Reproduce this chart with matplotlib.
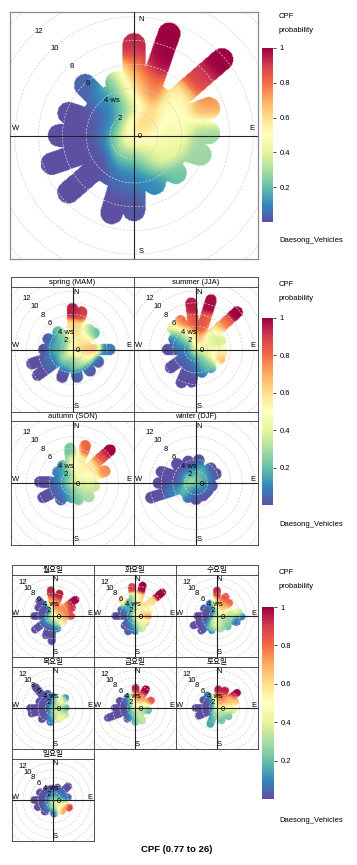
import numpy as np
import matplotlib.pyplot as plt
from matplotlib import cm
from matplotlib.colors import Normalize

W, H = 357, 865
plt.rcParams['font.family'] = ['Liberation Sans', 'Noto Sans CJK KR', 'DejaVu Sans']

# spokes: (wind direction deg, reach ws, CPF half-way out, CPF at tip)
# spots:  (wind direction deg, ws, CPF)
all_centre, all_core = 0.55, 4.8
all_spokes = [(0, 7.7, 0.6, 0.93), (19, 9.1, 0.8, 1.0), (49, 9.8, 0.5, 1.0), (70, 6.7, 0.5, 0.72),
              (88, 6.3, 0.45, 0.28), (106, 5.8, 0.42, 0.28), (132, 4.7, 0.38, 0.22), (157, 4.4, 0.25, 0.1),
              (180, 6.3, 0.08, 0.02), (196, 6.8, 0.04, 0.0), (229, 7.3, 0.0, 0.0), (251, 7.3, 0.0, 0.0),
              (270, 6.3, 0.0, 0.0), (289, 5.8, 0.0, 0.0), (316, 5.9, 0.06, 0.04), (342, 4.7, 0.3, 0.33)]
all_spots = [(40, 1.3, 0.68), (270, 1.8, 0.3), (200, 2.0, 0.3), (120, 2.5, 0.5),
             (49, 7.0, 0.9), (19, 6.5, 1.0), (0, 5.5, 0.75), (330, 4.0, 0.1), (90, 1.5, 0.52)]

season_names = ['spring (MAM)', 'summer (JJA)', 'autumn (SON)', 'winter (DJF)']
season_centre = [0.55, 0.45, 0.5, 0.4]
season_core = [3.4, 3.4, 3.0, 3.4]
spring_spokes = [(0, 7.0, 0.6, 0.95), (14, 6.6, 0.65, 0.9), (40, 4.5, 0.55, 0.35), (53, 4.7, 0.4, 0.15),
                 (90, 6.5, 0.7, 0.08), (115, 5.0, 0.5, 0.02), (140, 4.8, 0.3, 0.02), (170, 4.8, 0.3, 0.03),
                 (201, 5.1, 0.1, 0.0), (234, 7.5, 0.05, 0.0), (251, 7.5, 0.05, 0.0), (270, 5.0, 0.1, 0.0),
                 (293, 4.6, 0.15, 0.02), (320, 3.9, 0.3, 0.2)]
spring_spots = [(90, 1.9, 0.75), (60, 2.5, 0.72), (270, 3.0, 0.25), (230, 2.0, 0.45)]
summer_spokes = [(354, 8.0, 0.85, 0.95), (17, 8.9, 0.85, 0.98), (48, 9.6, 0.55, 1.0), (70, 4.5, 0.4, 0.35),
                 (95, 4.5, 0.5, 0.5), (111, 4.4, 0.5, 0.72), (140, 4.0, 0.2, 0.15), (165, 4.0, 0.15, 0.05),
                 (188, 5.6, 0.02, 0.0), (204, 6.2, 0.02, 0.0), (235, 5.4, 0.02, 0.0), (270, 4.9, 0.05, 0.0),
                 (295, 4.2, 0.1, 0.08), (312, 5.4, 0.3, 0.4), (331, 5.6, 0.5, 0.8)]
summer_spots = [(20, 1.7, 0.72), (265, 2.0, 0.12), (180, 2.0, 0.15), (150, 3.0, 0.3), (48, 6.5, 0.8), (60, 3.5, 0.35)]
autumn_spokes = [(356, 6.0, 0.45, 0.22), (19, 6.8, 0.55, 0.82), (49, 8.7, 0.55, 1.0), (70, 6.0, 0.5, 0.75),
                 (97, 3.9, 0.4, 0.35), (129, 3.7, 0.35, 0.3), (160, 3.0, 0.3, 0.25), (183, 2.5, 0.2, 0.12),
                 (215, 3.5, 0.1, 0.03), (244, 5.7, 0.02, 0.0), (272, 5.7, 0.02, 0.0), (307, 3.2, 0.15, 0.08),
                 (330, 3.4, 0.2, 0.12)]
autumn_spots = [(49, 6.5, 0.85), (270, 1.6, 0.2), (30, 2.5, 0.55)]
winter_spokes = [(7, 4.0, 0.08, 0.0), (45, 3.6, 0.05, 0.0), (65, 3.8, 0.05, 0.0), (100, 2.8, 0.08, 0.0),
                 (150, 2.5, 0.08, 0.0), (180, 2.8, 0.05, 0.0), (210, 2.8, 0.05, 0.0), (252, 8.2, 0.02, 0.0),
                 (270, 6.5, 0.0, 0.0), (288, 6.3, 0.0, 0.0), (315, 4.7, 0.0, 0.0), (340, 4.0, 0.02, 0.0)]
winter_spots = [(300, 1.5, 0.5), (20, 2.0, 0.38), (230, 2.3, 0.35), (250, 3.5, 0.2), (60, 1.5, 0.35)]

day_names = ['월요일', '화요일', '수요일', '목요일', '금요일', '토요일', '일요일']
day_centre = [0.5, 0.5, 0.45, 0.3, 0.5, 0.55, 0.45]
day_core = [3.0, 3.0, 3.0, 2.8, 3.0, 3.0, 3.0]
mon_spokes = [(355, 6.9, 0.75, 0.93), (16, 6.2, 0.8, 0.95), (54, 7.4, 0.75, 1.0), (67, 5.5, 0.75, 0.92),
              (90, 4.8, 0.7, 0.85), (120, 3.0, 0.5, 0.6), (160, 3.5, 0.3, 0.1), (183, 6.7, 0.02, 0.0),
              (200, 5.5, 0.02, 0.0), (233, 6.0, 0.0, 0.0), (270, 5.0, 0.0, 0.0), (300, 4.5, 0.0, 0.0),
              (318, 5.4, 0.0, 0.0)]
mon_spots = [(180, 1.5, 0.25), (240, 1.8, 0.3), (45, 2.5, 0.72)]
tue_spokes = [(354, 7.8, 0.3, 0.9), (14, 8.4, 0.7, 1.0), (49, 9.6, 0.6, 1.0), (70, 4.0, 0.45, 0.4),
              (90, 3.4, 0.85, 0.9), (120, 3.5, 0.4, 0.35), (150, 3.8, 0.45, 0.4), (180, 4.0, 0.2, 0.1),
              (204, 4.5, 0.1, 0.02), (227, 3.8, 0.05, 0.0), (270, 5.2, 0.02, 0.0), (295, 4.0, 0.05, 0.02),
              (320, 5.2, 0.3, 0.7), (340, 4.0, 0.2, 0.05)]
tue_spots = [(329, 3.4, 0.05), (357, 4.5, 0.3), (15, 4.0, 0.6)]
wed_spokes = [(0, 6.8, 0.7, 0.92), (24, 5.6, 0.7, 0.85), (43, 4.8, 0.65, 0.8), (80, 5.8, 0.4, 0.45),
              (91, 6.6, 0.3, 0.08), (107, 5.5, 0.25, 0.05), (135, 4.0, 0.3, 0.2), (165, 3.5, 0.4, 0.3),
              (200, 4.0, 0.45, 0.1), (227, 5.7, 0.1, 0.0), (248, 6.7, 0.02, 0.0), (270, 5.2, 0.0, 0.0),
              (300, 4.0, 0.0, 0.0), (330, 3.8, 0.1, 0.08)]
wed_spots = [(200, 2.5, 0.5), (90, 1.3, 0.3)]
thu_spokes = [(0, 3.0, 0.15, 0.08), (320, 7.3, 0.0, 0.0), (340, 4.0, 0.05, 0.02), (51, 4.2, 0.25, 0.05),
              (90, 3.4, 0.25, 0.08), (120, 3.8, 0.4, 0.4), (150, 3.4, 0.45, 0.45), (190, 3.8, 0.15, 0.08),
              (225, 4.2, 0.0, 0.0), (256, 5.9, 0.0, 0.0), (270, 6.1, 0.0, 0.0), (295, 4.0, 0.0, 0.0)]
thu_spots = [(42, 2.6, 0.75), (60, 3.0, 0.5)]
fri_spokes = [(2, 5.4, 0.8, 0.95), (30, 5.8, 0.75, 1.0), (65, 4.7, 0.6, 0.85), (100, 3.5, 0.3, 0.15),
              (150, 3.9, 0.4, 0.35), (178, 3.7, 0.3, 0.2), (215, 3.5, 0.1, 0.03), (250, 7.7, 0.0, 0.0),
              (270, 5.4, 0.0, 0.0), (295, 4.5, 0.0, 0.0), (325, 3.5, 0.1, 0.08)]
fri_spots = [(350, 1.5, 0.72), (100, 1.5, 0.3)]
sat_spokes = [(4, 5.0, 0.8, 0.95), (25, 5.2, 0.8, 0.95), (53, 6.7, 0.7, 1.0), (71, 5.1, 0.6, 0.65),
              (95, 4.5, 0.45, 0.4), (125, 3.8, 0.3, 0.2), (160, 3.5, 0.25, 0.2), (203, 4.6, 0.15, 0.15),
              (247, 5.3, 0.0, 0.0), (270, 5.7, 0.0, 0.0), (300, 4.2, 0.0, 0.0), (323, 4.2, 0.1, 0.08)]
sat_spots = [(30, 2.0, 0.75), (180, 1.8, 0.4)]
sun_spokes = [(355, 3.1, 0.15, 0.0), (20, 3.5, 0.15, 0.0), (48, 5.4, 0.05, 0.0), (80, 4.0, 0.1, 0.03),
              (115, 4.7, 0.5, 0.9), (142, 3.7, 0.5, 0.72), (175, 3.6, 0.15, 0.0), (215, 3.8, 0.05, 0.0),
              (245, 4.5, 0.0, 0.0), (270, 5.0, 0.0, 0.0), (300, 4.0, 0.0, 0.0), (330, 3.2, 0.03, 0.0)]
sun_spots = [(200, 1.3, 0.5)]

ring_ws = [2, 4, 6, 8, 10, 12]
cbar_ticks = [0.2, 0.4, 0.6, 0.8, 1.0]

cmap = plt.get_cmap('Spectral_r')
norm = Normalize(0, 1)
fig = plt.figure(figsize=(W / 100, H / 100), dpi=100)
FS = 5.5


def px_axes(x0, y0, x1, y1):
    return fig.add_axes([x0 / W, 1 - y1 / H, (x1 - x0) / W, (y1 - y0) / H])


def cpf_field(X, Y, centre, spokes, spots, sigma=0.9):
    pts = [(0.0, 0.0, centre)]
    for d, reach, mid, tip in spokes:
        a = np.radians(d)
        pts.append((0.5 * reach * np.sin(a), 0.5 * reach * np.cos(a), mid))
        pts.append((reach * np.sin(a), reach * np.cos(a), tip))
    for d, r, v in spots:
        a = np.radians(d)
        pts.append((r * np.sin(a), r * np.cos(a), v))
    pts = np.array(pts)
    d2 = (X[..., None] - pts[:, 0]) ** 2 + (Y[..., None] - pts[:, 1]) ** 2
    d2 -= d2.min(-1, keepdims=True)
    w = np.exp(-d2 / (2 * sigma ** 2))
    return (w * pts[:, 2]).sum(-1) / w.sum(-1)


def spoke_mask(X, Y, spokes, core, hw):
    mask = np.hypot(X, Y) <= core
    for d, reach, *_ in spokes:
        a = np.radians(d)
        ux, uy = np.sin(a), np.cos(a)
        t = np.clip(X * ux + Y * uy, 0, reach)
        mask |= np.hypot(X - t * ux, Y - t * uy) <= hw
    return mask


def polar_panel(ax, centre, spokes, spots, core, hw, lim, res):
    g = np.linspace(-lim, lim, res)
    X, Y = np.meshgrid(g, g)
    rgba = cmap(norm(cpf_field(X, Y, centre, spokes, spots)))
    rgba[..., 3] = spoke_mask(X, Y, spokes, core, hw)
    ax.imshow(rgba, extent=(-lim, lim, -lim, lim), origin='lower', interpolation='bilinear', zorder=1)
    th = np.linspace(0, 2 * np.pi, 300)
    for r in ring_ws + [14]:
        ax.plot(r * np.cos(th), r * np.sin(th), color='#cfcfcf', lw=0.5, ls=(0, (3, 2)), zorder=2)
    ax.axhline(0, color='#222222', lw=0.8, zorder=3)
    ax.axvline(0, color='#222222', lw=0.8, zorder=3)
    a = np.radians(-43)
    for v in ring_ws:
        ax.text(v * np.sin(a) + 0.2, v * np.cos(a), '4 ws' if v == 4 else str(v), fontsize=FS,
                ha='left' if v == 4 else 'center', va='center', zorder=4)
    ax.annotate('0', (0, 0), xytext=(4, -1), textcoords='offset points', fontsize=FS, ha='center', va='center', zorder=4)
    ax.text(0.6, 9.8, 'N', fontsize=FS, ha='center', va='center', zorder=4)
    ax.text(0.6, -9.8, 'S', fontsize=FS, ha='center', va='center', zorder=4)
    ax.text(-9.9, 0.6, 'W', fontsize=FS, ha='center', va='center', zorder=4)
    ax.text(9.9, 0.6, 'E', fontsize=FS, ha='center', va='center', zorder=4)
    ax.set_xlim(-lim, lim)
    ax.set_ylim(-lim, lim)
    ax.set_xticks([])
    ax.set_yticks([])
    ax.set_aspect('auto')
    for s in ax.spines.values():
        s.set_color('#333333')
        s.set_linewidth(0.6)


def strip(x0, y0, x1, y1, label):
    sax = px_axes(x0, y0, x1, y1)
    sax.set_xticks([])
    sax.set_yticks([])
    for s in sax.spines.values():
        s.set_color('#333333')
        s.set_linewidth(0.6)
    sax.text(0.5, 0.45, label, fontsize=FS, ha='center', va='center', transform=sax.transAxes)


def colour_key(x0, y0, x1, y1, top_y, foot_y):
    cax = px_axes(x0, y0, x1, y1)
    cb = fig.colorbar(cm.ScalarMappable(norm=norm, cmap=cmap), cax=cax)
    cb.set_ticks(cbar_ticks)
    cb.set_ticklabels(['0.2', '0.4', '0.6', '0.8', '1'])
    cb.outline.set_visible(False)
    cax.tick_params(length=2, width=0.5, labelsize=FS, pad=3)
    fig.text(279 / W, 1 - top_y / H, 'CPF', fontsize=FS, va='center')
    fig.text(279 / W, 1 - (top_y + 14) / H, 'probability', fontsize=FS, va='center')
    fig.text(279 / W, 1 - foot_y / H, 'Daesong_Vehicles', fontsize=FS, va='center')


# section 1: all data
ax = px_axes(10, 12, 258, 259)
polar_panel(ax, all_centre, all_spokes, all_spots, all_core, 0.95, 10.4, 320)
for s in ax.spines.values():
    s.set_color('#8a8a8a')
    s.set_linewidth(0.9)
colour_key(262, 48, 273, 222, 17, 240)

# section 2: seasons
season_spokes = [spring_spokes, summer_spokes, autumn_spokes, winter_spokes]
season_spots = [spring_spots, summer_spots, autumn_spots, winter_spots]
xs2 = [11, 134, 258]
rows2 = [(277, 287, 412), (412, 421, 545)]
for i, name in enumerate(season_names):
    r, c = divmod(i, 2)
    st, p0, p1 = rows2[r]
    strip(xs2[c], st, xs2[c + 1], p0, name)
    ax = px_axes(xs2[c], p0, xs2[c + 1], p1)
    polar_panel(ax, season_centre[i], season_spokes[i], season_spots[i], season_core[i], 1.0, 10.7, 200)
colour_key(262, 318, 273, 505, 284, 525)

# section 3: day of week
day_spokes = [mon_spokes, tue_spokes, wed_spokes, thu_spokes, fri_spokes, sat_spokes, sun_spokes]
day_spots = [mon_spots, tue_spots, wed_spots, thu_spots, fri_spots, sat_spots, sun_spots]
xs3 = [12, 94, 176, 258]
rows3 = [(565, 575, 657), (657, 667, 749), (749, 759, 841)]
for i, name in enumerate(day_names):
    r, c = divmod(i, 3)
    st, p0, p1 = rows3[r]
    strip(xs3[c], st, xs3[c + 1], p0, name)
    ax = px_axes(xs3[c], p0, xs3[c + 1], p1)
    polar_panel(ax, day_centre[i], day_spokes[i], day_spots[i], day_core[i], 1.05, 10.9, 150)
colour_key(262, 607, 274, 799, 573, 820)

fig.text(177 / W, 1 - 849 / H, 'CPF (0.77 to 26)', fontsize=6.8, weight='bold', ha='center', va='center')

fig.savefig('out.png', dpi=100)
